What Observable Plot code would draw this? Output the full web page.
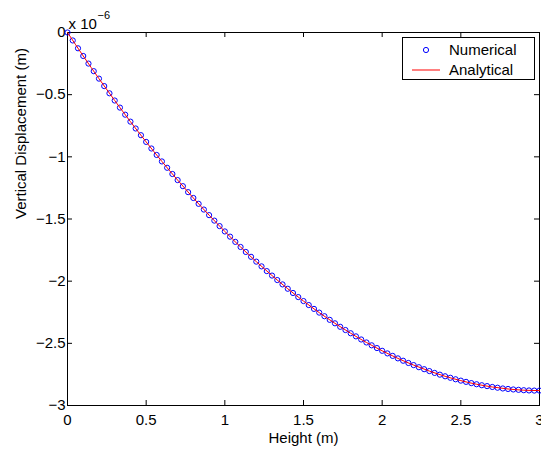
<!DOCTYPE html>
<html><head><meta charset="utf-8">
<script src="https://cdn.jsdelivr.net/npm/d3@7"></script>
<script src="https://cdn.jsdelivr.net/npm/@observablehq/plot@0.6"></script>
<style>html,body{margin:0;padding:0;background:#fff;overflow:hidden}</style>
</head><body><div id="chart"></div>
<script>
// Height (m) of the numerical nodes
const heights = [
0,0.0333,0.0667,0.1,0.1333,0.1667,0.2,0.2333,0.2667,0.3,
0.3333,0.3667,0.4,0.4333,0.4667,0.5,0.5333,0.5667,0.6,0.6333,
0.6667,0.7,0.7333,0.7667,0.8,0.8333,0.8667,0.9,0.9333,0.9667,
1,1.0333,1.0667,1.1,1.1333,1.1667,1.2,1.2333,1.2667,1.3,
1.3333,1.3667,1.4,1.4333,1.4667,1.5,1.5333,1.5667,1.6,1.6333,
1.6667,1.7,1.7333,1.7667,1.8,1.8333,1.8667,1.9,1.9333,1.9667,
2,2.0333,2.0667,2.1,2.1333,2.1667,2.2,2.2333,2.2667,2.3,
2.3333,2.3667,2.4,2.4333,2.4667,2.5,2.5333,2.5667,2.6,2.6333,
2.6667,2.7,2.7333,2.7667,2.8,2.8333,2.8667,2.9,2.9333,2.9667,3];
// Numerical vertical displacement (x 1e-6 m)
const numerical = [
0,-0.064,-0.127,-0.189,-0.250,-0.311,-0.371,-0.431,-0.489,-0.547,
-0.604,-0.661,-0.717,-0.772,-0.826,-0.880,-0.933,-0.985,-1.037,-1.088,
-1.138,-1.187,-1.236,-1.284,-1.331,-1.378,-1.424,-1.469,-1.513,-1.557,
-1.600,-1.642,-1.684,-1.725,-1.765,-1.804,-1.843,-1.881,-1.919,-1.955,
-1.991,-2.026,-2.061,-2.095,-2.128,-2.160,-2.192,-2.223,-2.253,-2.282,
-2.311,-2.339,-2.367,-2.393,-2.419,-2.444,-2.469,-2.493,-2.516,-2.538,
-2.560,-2.581,-2.601,-2.621,-2.640,-2.658,-2.675,-2.692,-2.708,-2.723,
-2.738,-2.752,-2.765,-2.777,-2.789,-2.800,-2.810,-2.820,-2.829,-2.837,
-2.844,-2.851,-2.857,-2.863,-2.867,-2.871,-2.874,-2.877,-2.879,-2.880,-2.880];
// Analytical curve (x 1e-6 m)
const analyticalHeights = [0,0.1,0.2,0.3,0.4,0.5,0.6,0.7,0.8,0.9,1,1.1,1.2,1.3,1.4,1.5,1.6,1.7,1.8,1.9,2,2.1,2.2,2.3,2.4,2.5,2.6,2.7,2.8,2.9,3];
const analytical = [0,-0.189,-0.371,-0.547,-0.717,-0.880,-1.037,-1.187,-1.331,-1.469,-1.600,-1.725,-1.843,-1.955,-2.061,-2.160,-2.253,-2.339,-2.419,-2.493,-2.560,-2.621,-2.675,-2.723,-2.765,-2.800,-2.829,-2.851,-2.867,-2.877,-2.880];
const xTicks = [0,0.5,1,1.5,2,2.5,3];
const yTicks = [0,-0.5,-1,-1.5,-2,-2.5,-3];
const seriesNames = ["Numerical","Analytical"];
const xLabel = "Height (m)";
const yLabel = "Vertical Displacement (m)";
const multiplier = "x 10";
const exponent = "\u22126";

const numData = heights.map((h,i)=>({h, v: numerical[i]}));
const anaData = analyticalHeights.map((h,i)=>({h, v: analytical[i]}));
const fmt = d => (d < 0 ? "\u2212" : "") + String(Math.abs(d));

const W = 541, H = 449, ML = 67, MR = 2, MT = 32, MB = 44, TICK = 5;
const plotW = W - ML - MR, plotH = H - MT - MB;

const FONT = "'Liberation Sans', Arial, Helvetica, sans-serif";
const chart = Plot.plot({
  width: W, height: H,
  marginLeft: ML, marginRight: MR, marginTop: MT, marginBottom: MB,
  style: {fontFamily: FONT, fontSize: "15px", background: "white", color: "black"},
  x: {domain: [0,3]},
  y: {domain: [-3,0]},
  marks: [
    // inward ticks on all four sides
    Plot.tickX(xTicks, {x: d => d, insetTop: plotH - TICK, stroke: "black"}),
    Plot.tickX(xTicks, {x: d => d, insetBottom: plotH - TICK, stroke: "black"}),
    Plot.tickY(yTicks, {y: d => d, insetRight: plotW - TICK, stroke: "black"}),
    Plot.tickY(yTicks, {y: d => d, insetLeft: plotW - TICK, stroke: "black"}),
    // tick labels
    Plot.axisX(xTicks, {anchor: "bottom", tickSize: 0, tickPadding: 9, tickFormat: fmt, label: null, fontSize: 15}),
    Plot.axisY(yTicks, {anchor: "left", tickSize: 0, tickPadding: 2, tickFormat: fmt, label: null, fontSize: 15}),
    Plot.frame({stroke: "black", strokeWidth: 1}),
    Plot.dot(numData, {x: "h", y: "v", r: 2.6, stroke: "#0000ff", strokeWidth: 1, fill: "none"}),
    Plot.line(anaData, {x: "h", y: "v", stroke: "#ff0000", strokeWidth: 1, curve: "natural"}),
    Plot.text([xLabel], {frameAnchor: "bottom", dy: 37, lineAnchor: "bottom", fontSize: 15}),
    Plot.text([yLabel], {frameAnchor: "left", dx: -46, rotate: -90, fontSize: 15}),
    Plot.text([multiplier], {frameAnchor: "top-left", dx: 1, dy: -4, textAnchor: "start", lineAnchor: "bottom", fontSize: 15}),
    Plot.text([exponent], {frameAnchor: "top-left", dx: 30, dy: -14, textAnchor: "start", lineAnchor: "bottom", fontSize: 11})
  ]
});
document.getElementById("chart").appendChild(chart);

// Legend box (inside the axes, top-right)
const svg = d3.select(chart);
const lg = svg.append("g").attr("font-family", FONT).attr("font-size", 15).attr("text-anchor", "start");
lg.append("rect").attr("x", 402.5).attr("y", 37.5).attr("width", 132).attr("height", 42)
  .attr("fill", "white").attr("stroke", "black").attr("stroke-width", 1);
lg.append("circle").attr("cx", 426).attr("cy", 50).attr("r", 2.6)
  .attr("fill", "none").attr("stroke", "#0000ff").attr("stroke-width", 1);
lg.append("line").attr("x1", 412).attr("x2", 440).attr("y1", 70).attr("y2", 70)
  .style("stroke", "#ff0000").style("stroke-width", "1px");
lg.append("text").attr("x", 449).attr("y", 55).attr("fill", "black").text(seriesNames[0]);
lg.append("text").attr("x", 449).attr("y", 75).attr("fill", "black").text(seriesNames[1]);
</script>
</body></html>
